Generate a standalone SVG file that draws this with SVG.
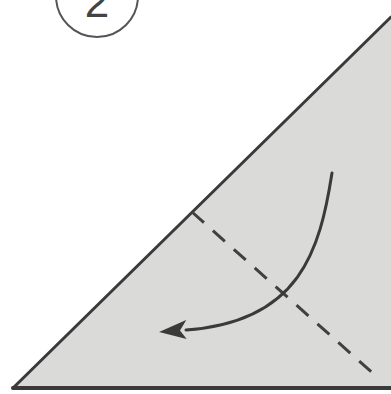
<svg xmlns="http://www.w3.org/2000/svg" width="391" height="394" viewBox="0 0 391 394">
<defs>
<style>
.edge{stroke:#3a3a3a;fill:none;stroke-linecap:round}
.fold{stroke:#404040;stroke-width:3;fill:none;stroke-dasharray:16 12}
.lbl{font-family:"Liberation Sans",Arial,sans-serif;font-size:44px;fill:#444}
</style>
<marker id="ah" viewBox="0 0 30 20" refX="3" refY="10" markerWidth="30" markerHeight="20" markerUnits="userSpaceOnUse" orient="auto">
<path d="M0,10 L28,0 L21,10 L27,19 Z" fill="#3a3a3a" transform="rotate(180 15 10)"/>
</marker>
</defs>
<rect width="391" height="394" fill="#fff"/>
<g id="step-label">
<circle cx="97" cy="-4" r="41" fill="none" stroke="#555" stroke-width="2"/>
<text class="lbl" x="97" y="17" text-anchor="middle">2</text>
</g>
<g id="paper">
<polygon points="13,388 391,17 391,388" fill="#dadad8"/>
<line class="edge" x1="13" y1="388" x2="391" y2="17" stroke-width="3"/>
<line class="edge" x1="13" y1="388" x2="391" y2="388" stroke-width="4" stroke-linecap="butt"/>
</g>
<g id="connectors">
<path class="fold" d="M192,212 L376,376" stroke-dasharray="16 13"/>
<path class="edge" stroke-width="3" d="M332,173 C320,250 300,322 186,330" marker-end="url(#ah)"/>
</g>
</svg>
